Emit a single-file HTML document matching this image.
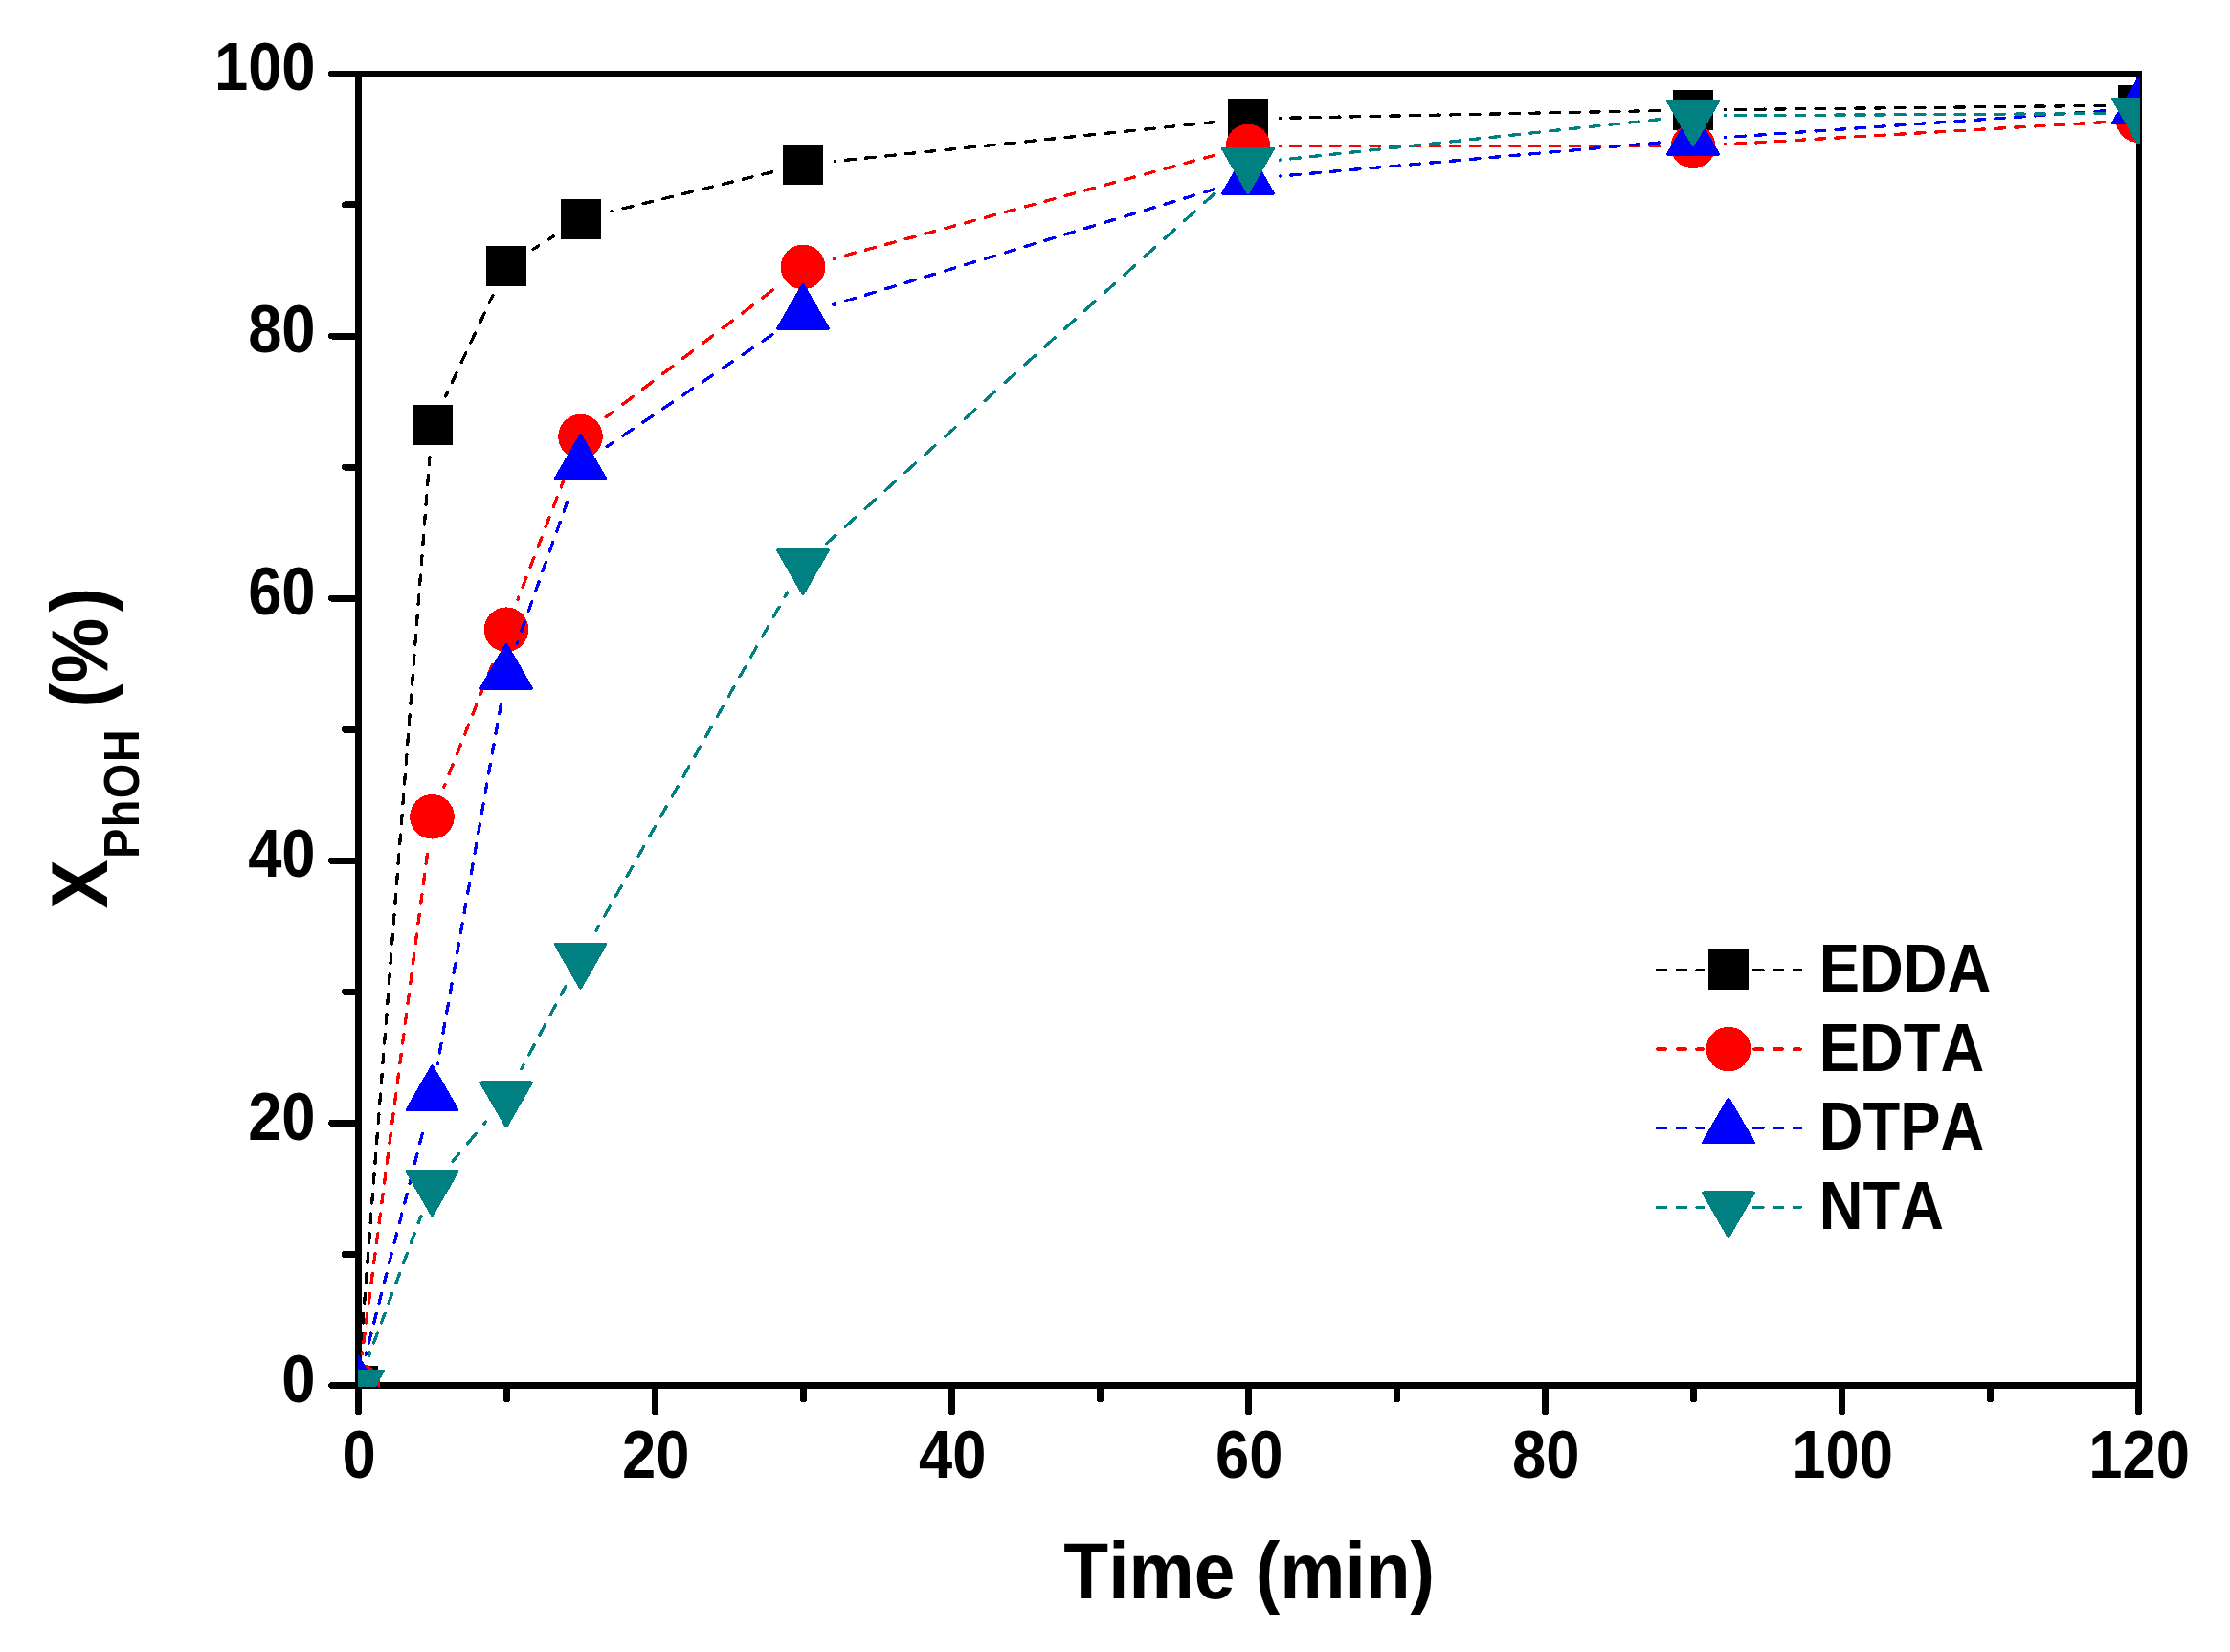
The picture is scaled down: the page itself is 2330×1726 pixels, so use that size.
<!DOCTYPE html>
<html lang="en">
<head>
<meta charset="utf-8">
<title>Phenol conversion vs time</title>
<style>
html,body{margin:0;padding:0;background:#fff;}
body{width:2330px;height:1726px;overflow:hidden;}
svg{display:block;}
text{font-family:"Liberation Sans",sans-serif;font-weight:bold;fill:#000;font-kerning:none;}
</style>
</head>
<body>

<svg width="2330" height="1726" viewBox="0 0 2330 1726">
<rect x="0" y="0" width="2330" height="1726" fill="#ffffff"/>
<defs><clipPath id="plotclip"><rect x="374" y="73.8" width="1862" height="1375.1"/></clipPath></defs>
<g id="frame" fill="#000" shape-rendering="crispEdges">
<rect x="371" y="74" width="7" height="1377"/>
<rect x="371" y="1444" width="1867" height="7"/>
<rect x="371" y="74" width="1867" height="6"/>
<rect x="2232" y="74" width="6" height="1377"/>
</g>
<g id="ticks" stroke="#000" stroke-width="7" stroke-linecap="round" fill="none" shape-rendering="crispEdges">
<line x1="346.7" y1="1447.5" x2="372" y2="1447.5"/>
<line x1="360.4" y1="1310.44" x2="372" y2="1310.44"/>
<line x1="346.7" y1="1173.38" x2="372" y2="1173.38"/>
<line x1="360.4" y1="1036.32" x2="372" y2="1036.32"/>
<line x1="346.7" y1="899.26" x2="372" y2="899.26"/>
<line x1="360.4" y1="762.2" x2="372" y2="762.2"/>
<line x1="346.7" y1="625.14" x2="372" y2="625.14"/>
<line x1="360.4" y1="488.08" x2="372" y2="488.08"/>
<line x1="346.7" y1="351.02" x2="372" y2="351.02"/>
<line x1="360.4" y1="213.96" x2="372" y2="213.96"/>
<line x1="346.2" y1="77" x2="372" y2="77" stroke-width="6"/>
<line x1="374.5" y1="1450" x2="374.5" y2="1474.6"/>
<line x1="529.5" y1="1450" x2="529.5" y2="1461.8"/>
<line x1="684.5" y1="1450" x2="684.5" y2="1474.6"/>
<line x1="839.5" y1="1450" x2="839.5" y2="1461.8"/>
<line x1="994.5" y1="1450" x2="994.5" y2="1474.6"/>
<line x1="1149.5" y1="1450" x2="1149.5" y2="1461.8"/>
<line x1="1304.5" y1="1450" x2="1304.5" y2="1474.6"/>
<line x1="1459.5" y1="1450" x2="1459.5" y2="1461.8"/>
<line x1="1614.5" y1="1450" x2="1614.5" y2="1474.6"/>
<line x1="1769.5" y1="1450" x2="1769.5" y2="1461.8"/>
<line x1="1924.5" y1="1450" x2="1924.5" y2="1474.6"/>
<line x1="2079.5" y1="1450" x2="2079.5" y2="1461.8"/>
<line x1="2234.5" y1="1450" x2="2234.5" y2="1474.6"/>
</g>
<g id="ylabels" font-size="69.6" text-anchor="end">
<text transform="translate(329.6,1464.7) scale(0.91,1)">0</text>
<text transform="translate(329.6,1190.58) scale(0.91,1)">20</text>
<text transform="translate(329.6,916.46) scale(0.91,1)">40</text>
<text transform="translate(329.6,642.34) scale(0.91,1)">60</text>
<text transform="translate(329.6,368.22) scale(0.91,1)">80</text>
<text transform="translate(329.6,94.1) scale(0.91,1)">100</text>
</g>
<g id="xlabels" font-size="69.6" text-anchor="middle">
<text transform="translate(375.2,1543.8) scale(0.91,1)">0</text>
<text transform="translate(685.2,1543.8) scale(0.91,1)">20</text>
<text transform="translate(995.2,1543.8) scale(0.91,1)">40</text>
<text transform="translate(1305.2,1543.8) scale(0.91,1)">60</text>
<text transform="translate(1615.2,1543.8) scale(0.91,1)">80</text>
<text transform="translate(1925.2,1543.8) scale(0.91,1)">100</text>
<text transform="translate(2235.2,1543.8) scale(0.91,1)">120</text>
</g>
<text font-size="84.3" text-anchor="middle" transform="translate(1305.2,1670) scale(0.91,1)">Time (min)</text>
<text font-size="84.3" transform="translate(112,949.5) rotate(-90) scale(0.91,1)">X<tspan font-size="51.7" dx="1.5" dy="32.7" letter-spacing="1.5">PhOH</tspan><tspan dy="-32.7"> (%</tspan><tspan dx="7">)</tspan></text>
<g id="data" clip-path="url(#plotclip)" shape-rendering="crispEdges">
<g id="s-EDDA">
<g stroke="#000000" stroke-width="3.3" stroke-linecap="round" fill="none">
<line x1="376.57" y1="1414.2" x2="448.93" y2="477.4" stroke-dasharray="9.74 11.17" stroke-dashoffset="9.53"/>
<line x1="465.65" y1="413.85" x2="514.85" y2="308.65" stroke-dasharray="11.05 11.97" stroke-dashoffset="7.3"/>
<line x1="557.13" y1="260.4" x2="578.37" y2="246.8" stroke-dasharray="12.13 12.62" stroke-dashoffset="5.45"/>
<line x1="638.94" y1="220.86" x2="806.56" y2="179.84" stroke-dasharray="10.08 11.38" stroke-dashoffset="8.95"/>
<line x1="872.22" y1="168.48" x2="1270.78" y2="127.42" stroke-dasharray="9.77 11.19" stroke-dashoffset="9.48"/>
<line x1="1337.39" y1="123.35" x2="1735.61" y2="115.6" stroke-dasharray="9.7 11.15" stroke-dashoffset="9.6"/>
<line x1="1802.4" y1="114.59" x2="2200.6" y2="110.36" stroke-dasharray="9.7 11.15" stroke-dashoffset="9.6"/>
</g>
<rect x="353" y="1426.5" width="42" height="42" fill="#000000"/>
<rect x="430.5" y="423.1" width="42" height="42" fill="#000000"/>
<rect x="508" y="257.4" width="42" height="42" fill="#000000"/>
<rect x="585.5" y="207.8" width="42" height="42" fill="#000000"/>
<rect x="818" y="150.9" width="42" height="42" fill="#000000"/>
<rect x="1283" y="103" width="42" height="42" fill="#000000"/>
<rect x="1748" y="93.95" width="42" height="42" fill="#000000"/>
<rect x="2213" y="89" width="42" height="42" fill="#000000"/>
</g>
<g id="s-EDTA">
<g stroke="#ff0000" stroke-width="3.3" stroke-linecap="round" fill="none">
<line x1="378.32" y1="1414.38" x2="447.18" y2="886.42" stroke-dasharray="9.81 11.22" stroke-dashoffset="9.41"/>
<line x1="463.8" y1="822.25" x2="516.7" y2="688.75" stroke-dasharray="10.68 11.74" stroke-dashoffset="7.92"/>
<line x1="540.98" y1="626.52" x2="594.52" y2="487.28" stroke-dasharray="10.63 11.71" stroke-dashoffset="8.02"/>
<line x1="633.06" y1="435.85" x2="812.44" y2="299.15" stroke-dasharray="13.05 13.17" stroke-dashoffset="3.9"/>
<line x1="871.24" y1="270.16" x2="1271.76" y2="161.54" stroke-dasharray="10.17 11.43" stroke-dashoffset="8.8"/>
<line x1="1337.4" y1="152.8" x2="1735.6" y2="152.8" stroke-dasharray="9.7 11.15" stroke-dashoffset="9.6"/>
<line x1="1802.34" y1="150.85" x2="2200.66" y2="127.55" stroke-dasharray="9.72 11.16" stroke-dashoffset="9.56"/>
</g>
<circle cx="374" cy="1447.5" r="23.3" fill="#ff0000"/>
<circle cx="451.5" cy="853.3" r="23.3" fill="#ff0000"/>
<circle cx="529" cy="657.7" r="23.3" fill="#ff0000"/>
<circle cx="606.5" cy="456.1" r="23.3" fill="#ff0000"/>
<circle cx="839" cy="278.9" r="23.3" fill="#ff0000"/>
<circle cx="1304" cy="152.8" r="23.3" fill="#ff0000"/>
<circle cx="1769" cy="152.8" r="23.3" fill="#ff0000"/>
<circle cx="2234" cy="125.6" r="23.3" fill="#ff0000"/>
</g>
<g id="s-DTPA">
<g stroke="#0000ff" stroke-width="3.3" stroke-linecap="round" fill="none">
<line x1="382.28" y1="1415.14" x2="443.22" y2="1176.86" stroke-dasharray="10.12 11.4" stroke-dashoffset="8.89"/>
<line x1="457.29" y1="1111.61" x2="523.21" y2="736.89" stroke-dasharray="9.9 11.27" stroke-dashoffset="9.26"/>
<line x1="540.16" y1="672.52" x2="595.34" y2="516.78" stroke-dasharray="10.49 11.63" stroke-dashoffset="8.25"/>
<line x1="634.16" y1="466.58" x2="811.34" y2="346.72" stroke-dasharray="12.4 12.78" stroke-dashoffset="5.01"/>
<line x1="870.96" y1="318.31" x2="1272.04" y2="196.69" stroke-dasharray="10.28 11.5" stroke-dashoffset="8.6"/>
<line x1="1337.27" y1="184.06" x2="1735.73" y2="148.84" stroke-dasharray="9.75 11.18" stroke-dashoffset="9.51"/>
<line x1="1802.32" y1="143.57" x2="2200.68" y2="115.73" stroke-dasharray="9.73 11.17" stroke-dashoffset="9.55"/>
</g>
<polygon points="374,1417.07 347.65,1462.71 400.35,1462.71" fill="#0000ff" stroke="#0000ff" stroke-width="3.2" stroke-linejoin="round"/>
<polygon points="451.5,1114.07 425.15,1159.71 477.85,1159.71" fill="#0000ff" stroke="#0000ff" stroke-width="3.2" stroke-linejoin="round"/>
<polygon points="529,673.57 502.65,719.21 555.35,719.21" fill="#0000ff" stroke="#0000ff" stroke-width="3.2" stroke-linejoin="round"/>
<polygon points="606.5,454.87 580.15,500.51 632.85,500.51" fill="#0000ff" stroke="#0000ff" stroke-width="3.2" stroke-linejoin="round"/>
<polygon points="839,297.57 812.65,343.21 865.35,343.21" fill="#0000ff" stroke="#0000ff" stroke-width="3.2" stroke-linejoin="round"/>
<polygon points="1304,156.57 1277.65,202.21 1330.35,202.21" fill="#0000ff" stroke="#0000ff" stroke-width="3.2" stroke-linejoin="round"/>
<polygon points="1769,115.47 1742.65,161.11 1795.35,161.11" fill="#0000ff" stroke="#0000ff" stroke-width="3.2" stroke-linejoin="round"/>
<polygon points="2234,82.97 2207.65,128.61 2260.35,128.61" fill="#0000ff" stroke="#0000ff" stroke-width="3.2" stroke-linejoin="round"/>
</g>
<g id="s-NTA">
<g stroke="#008080" stroke-width="3.3" stroke-linecap="round" fill="none">
<line x1="385.64" y1="1416.19" x2="439.86" y2="1270.41" stroke-dasharray="10.57 11.68" stroke-dashoffset="8.12"/>
<line x1="472.91" y1="1213.46" x2="507.59" y2="1171.94" stroke-dasharray="13.64 13.53" stroke-dashoffset="2.89"/>
<line x1="544.76" y1="1116.85" x2="590.74" y2="1030.95" stroke-dasharray="11.44 12.2" stroke-dashoffset="6.63"/>
<line x1="622.93" y1="972.42" x2="822.57" y2="619.08" stroke-dasharray="11.63 12.32" stroke-dashoffset="6.31"/>
<line x1="863.8" y1="567.63" x2="1279.2" y2="193.07" stroke-dasharray="14.2 13.87" stroke-dashoffset="1.92"/>
<line x1="1337.21" y1="167.14" x2="1735.79" y2="124.46" stroke-dasharray="9.77 11.19" stroke-dashoffset="9.47"/>
<line x1="1802.4" y1="120.73" x2="2200.6" y2="118.67" stroke-dasharray="9.7 11.15" stroke-dashoffset="9.6"/>
</g>
<polygon points="374,1477.93 347.65,1432.29 400.35,1432.29" fill="#008080" stroke="#008080" stroke-width="3.2" stroke-linejoin="round"/>
<polygon points="451.5,1269.53 425.15,1223.89 477.85,1223.89" fill="#008080" stroke="#008080" stroke-width="3.2" stroke-linejoin="round"/>
<polygon points="529,1176.73 502.65,1131.09 555.35,1131.09" fill="#008080" stroke="#008080" stroke-width="3.2" stroke-linejoin="round"/>
<polygon points="606.5,1031.93 580.15,986.29 632.85,986.29" fill="#008080" stroke="#008080" stroke-width="3.2" stroke-linejoin="round"/>
<polygon points="839,620.43 812.65,574.79 865.35,574.79" fill="#008080" stroke="#008080" stroke-width="3.2" stroke-linejoin="round"/>
<polygon points="1304,201.13 1277.65,155.49 1330.35,155.49" fill="#008080" stroke="#008080" stroke-width="3.2" stroke-linejoin="round"/>
<polygon points="1769,151.33 1742.65,105.69 1795.35,105.69" fill="#008080" stroke="#008080" stroke-width="3.2" stroke-linejoin="round"/>
<polygon points="2234,148.93 2207.65,103.29 2260.35,103.29" fill="#008080" stroke="#008080" stroke-width="3.2" stroke-linejoin="round"/>
</g>
</g>
<g id="legend" shape-rendering="crispEdges">
<g stroke="#000000" stroke-width="3.3" stroke-linecap="round" stroke-dasharray="9.2 11.5" fill="none">
<line x1="1731.55" y1="1013.3" x2="1779.35" y2="1013.3"/>
<line x1="1832.75" y1="1013.3" x2="1881.25" y2="1013.3"/>
</g>
<rect x="1785" y="992.3" width="42" height="42" fill="#000000"/>
<text font-size="69.6" transform="translate(1900.8,1035.9) scale(0.91,1)">EDDA</text>
<g stroke="#ff0000" stroke-width="3.3" stroke-linecap="round" stroke-dasharray="9.2 11.5" fill="none">
<line x1="1731.55" y1="1096.1" x2="1779.35" y2="1096.1"/>
<line x1="1832.75" y1="1096.1" x2="1881.25" y2="1096.1"/>
</g>
<circle cx="1806" cy="1096.1" r="23.3" fill="#ff0000"/>
<text font-size="69.6" transform="translate(1900.8,1118.7) scale(0.91,1)">EDTA</text>
<g stroke="#0000ff" stroke-width="3.3" stroke-linecap="round" stroke-dasharray="9.2 11.5" fill="none">
<line x1="1731.55" y1="1178.6" x2="1779.35" y2="1178.6"/>
<line x1="1832.75" y1="1178.6" x2="1881.25" y2="1178.6"/>
</g>
<polygon points="1806,1148.17 1779.65,1193.81 1832.35,1193.81" fill="#0000ff" stroke="#0000ff" stroke-width="3.2" stroke-linejoin="round"/>
<text font-size="69.6" transform="translate(1900.8,1201.2) scale(0.91,1)">DTPA</text>
<g stroke="#008080" stroke-width="3.3" stroke-linecap="round" stroke-dasharray="9.2 11.5" fill="none">
<line x1="1731.55" y1="1261.3" x2="1779.35" y2="1261.3"/>
<line x1="1832.75" y1="1261.3" x2="1881.25" y2="1261.3"/>
</g>
<polygon points="1806,1291.73 1779.65,1246.09 1832.35,1246.09" fill="#008080" stroke="#008080" stroke-width="3.2" stroke-linejoin="round"/>
<text font-size="69.6" transform="translate(1900.8,1283.9) scale(0.91,1)">NTA</text>
</g>
</svg>
</body>
</html>
